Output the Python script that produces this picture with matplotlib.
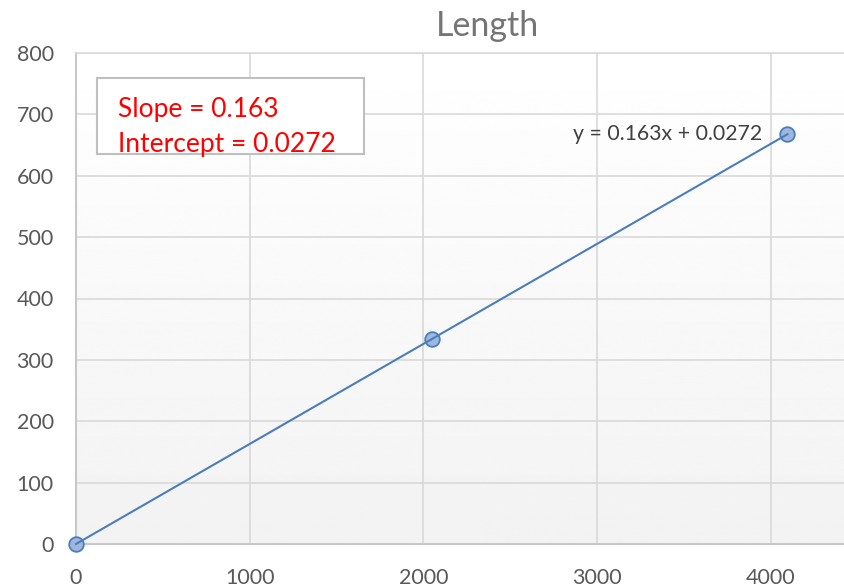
import numpy as np
import matplotlib
matplotlib.use("Agg")
import matplotlib.pyplot as plt

# measurements
x_vals = [0, 2048, 4096]
y_vals = [0, 333.9, 667.7]
slope = 0.163
intercept = 0.0272
x_ticks = [0, 1000, 2000, 3000, 4000]
y_ticks = [0, 100, 200, 300, 400, 500, 600, 700, 800]

plt.rcParams['font.family'] = ['Lato', 'DejaVu Sans']

fig = plt.figure(figsize=(8.44, 5.88), dpi=100)
W, H = 844, 588
# plot area runs a bit past the right edge of the figure
x0, x1 = 76, 76 + 4.5 * 173.7
y0, y1 = 544, 53
ax = fig.add_axes([x0 / W, 1 - y0 / H, (x1 - x0) / W, (y0 - y1) / H])
ax.set_xlim(0, 4500)
ax.set_ylim(0, 800)

# white-to-grey gradient behind the plot
grad = np.linspace(0.95, 1.0, 256).reshape(-1, 1)
ax.imshow(grad, extent=[0, 4500, 0, 800], origin='lower', aspect='auto',
          cmap='gray', vmin=0, vmax=1, zorder=0)

ax.set_xticks(x_ticks)
ax.set_yticks(y_ticks)
ax.grid(True, color='#d9d9d9', linewidth=1.2, zorder=1)
ax.tick_params(length=0, labelsize=15.5, labelcolor='#595959')
ax.tick_params(axis='x', pad=17)
ax.tick_params(axis='y', pad=16)
ax.spines['right'].set_visible(False)
for s in ['left', 'bottom']:
    ax.spines[s].set_color('#c8c8c8')
    ax.spines[s].set_linewidth(1.5)
ax.spines['top'].set_color('#d9d9d9')
ax.spines['top'].set_linewidth(1.2)

ax.plot(x_vals, y_vals, 'o', markersize=10.5, markerfacecolor='#9fb6de',
        markeredgecolor='#4a7ebb', markeredgewidth=1.3, zorder=3, clip_on=False)

fit_x = np.array([x_vals[0], x_vals[-1]])
ax.plot(fit_x, slope * fit_x + intercept, color='#4a7ebb', linewidth=1.5,
        zorder=4, clip_on=False)

ax.text(3950, y_vals[-1], f'y = {slope}x + {intercept}', ha='right',
        va='center', fontsize=15.3, color='#404040', zorder=5)

fig.text(487 / W, 1 - 36 / H, 'Length', ha='center', va='baseline',
         fontsize=24.5, color='#757575')

# slope / intercept box
box = plt.Rectangle((97 / W, 1 - 154 / H), (364 - 97) / W, (154 - 78) / H,
                    transform=fig.transFigure, facecolor='white',
                    edgecolor='#bfbfbf', linewidth=1.5, zorder=6)
fig.add_artist(box)
fig.text(118 / W, 1 - 117 / H, f'Slope = {slope}', fontsize=19,
         color='#ff0000', va='baseline', zorder=7)
fig.text(118 / W, 1 - 152 / H, f'Intercept = {intercept}', fontsize=19,
         color='#ff0000', va='baseline', zorder=7)

fig.savefig('out.png', dpi=100)
